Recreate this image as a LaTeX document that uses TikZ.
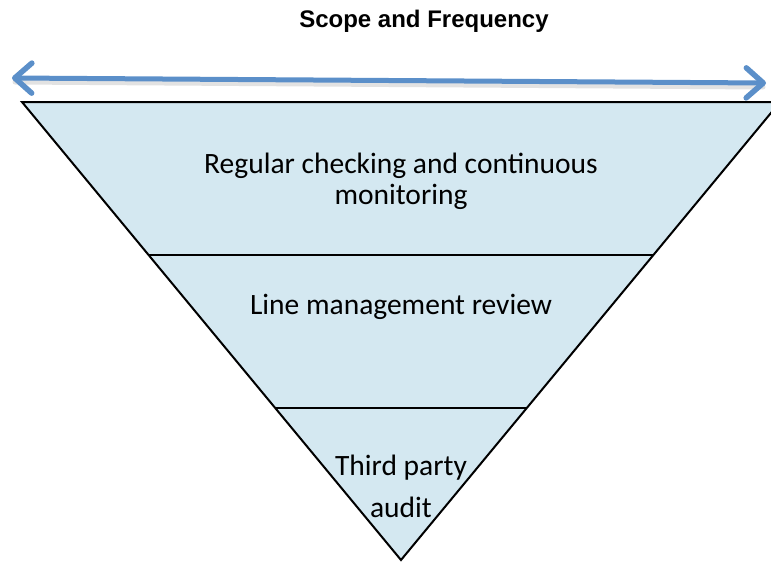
\documentclass[tikz,border=0pt]{standalone}
\usepackage{fontspec}
\setmainfont{Carlito}
\newfontfamily\titlefont{Liberation Sans}
\usetikzlibrary{arrows.meta}
\definecolor{bandfill}{HTML}{D4E8F1}
\definecolor{arrowblue}{HTML}{5B8FC9}
\tikzset{barb/.tip={Straight Barb[length=17pt,width=30pt,line width=5.5pt,line cap=round,line join=round]}}
\begin{document}
\begin{tikzpicture}[x=1pt,y=-1pt,
  band/.style={fill=bandfill,draw=black,line width=2pt,line join=miter},
  divider/.style={draw=black,line width=1.8pt},
  label/.style={font=\fontsize{29.5}{31}\selectfont,align=center,inner sep=0pt},
  span/.style={draw=arrowblue,line width=5pt,line cap=round,{barb}-{barb}},
  spanshadow/.style={draw=black!25,line width=5pt,line cap=round,opacity=0.45}]
\useasboundingbox (0,0) rectangle (771,565);
\clip (0,0) rectangle (771,565);
% inverted triangle
\coordinate (tl) at (22,102);
\coordinate (tr) at (780,102);
\coordinate (apex) at (401,560);
\path[band] (tl) -- (tr) -- (apex) -- cycle;
% band dividers
\coordinate (d1l) at (148.6,255);
\coordinate (d1r) at (653.4,255);
\coordinate (d2l) at (275.2,408);
\coordinate (d2r) at (526.8,408);
\draw[divider] (d1l) -- (d1r);
\draw[divider] (d2l) -- (d2r);
% labels
\node[label] (top) at (401,181) {Regular checking and continuous\\monitoring};
\node[label] (mid) at (401,307) {Line management review};
\node[label,font=\fontsize{29.5}{42}\selectfont] (low) at (401,486) {Third party\\audit};
% scope arrow
\coordinate (al) at (12,78);
\coordinate (ar) at (766,83);
\coordinate (alsh) at (15,82);
\coordinate (arsh) at (763,87);
\draw[spanshadow] (alsh) -- (arsh);
\draw[span] (al) -- (ar);
\node[font=\titlefont\bfseries\fontsize{24}{28}\selectfont] (title) at (424,21) {Scope and Frequency};
\end{tikzpicture}
\end{document}
